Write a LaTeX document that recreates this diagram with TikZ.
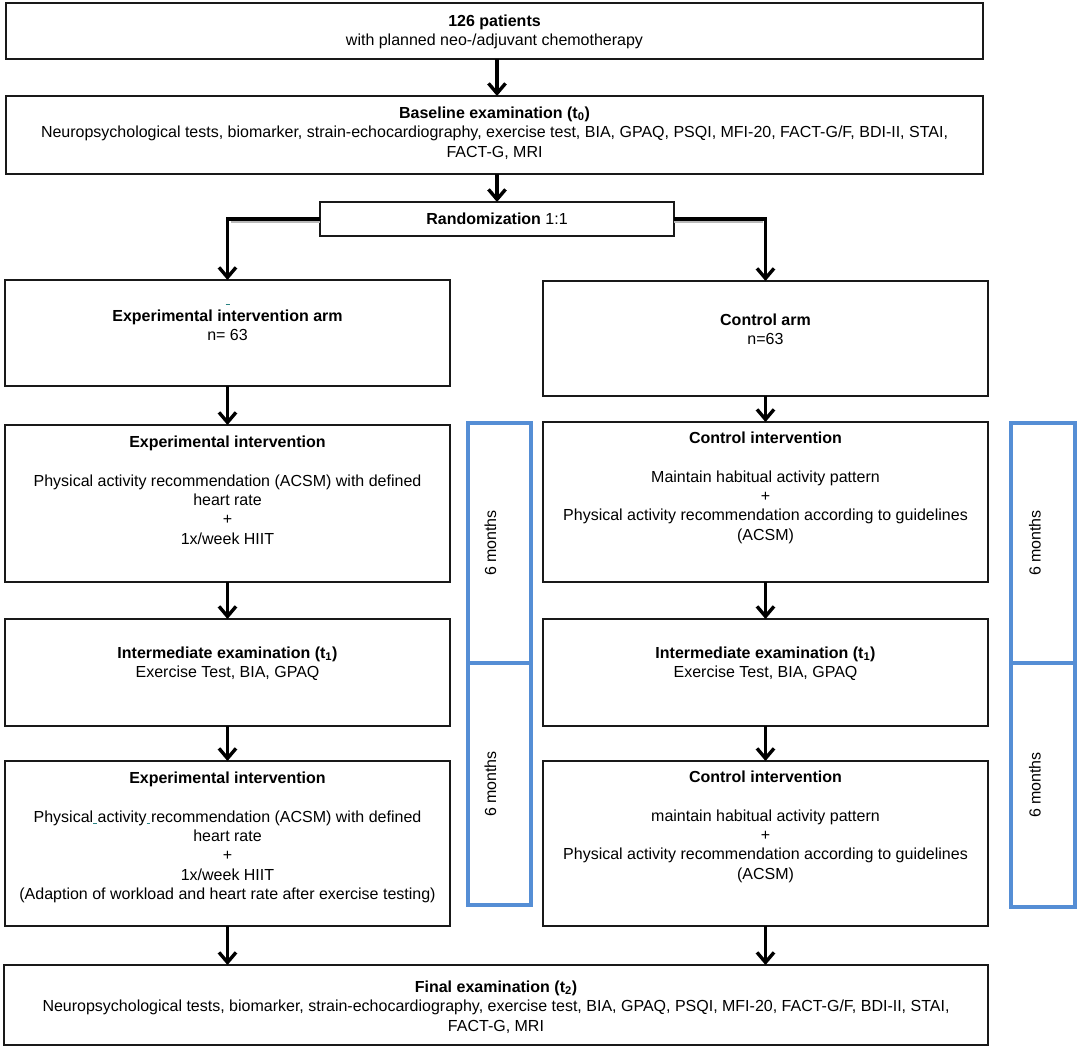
\documentclass[tikz,border=0pt]{standalone}
\usepackage{fontspec}
\setmainfont{Liberation Sans}
\usetikzlibrary{arrows.meta}
\definecolor{bluebox}{RGB}{85,142,213}
\definecolor{boxline}{RGB}{25,25,25}
\definecolor{tealmark}{RGB}{40,130,130}
\newcommand\mytealmark{\makebox[0pt][l]{\color{tealmark}\rule[-2pt]{3.5pt}{0.7pt}}}
\begin{document}
\begin{tikzpicture}[x=1pt,y=-1pt,
  box/.style={draw=boxline, line width=2.2pt, inner sep=0pt, outer sep=0pt, rectangle},
  bluerect/.style={draw=bluebox, line width=3.4pt, inner sep=0pt, outer sep=0pt, rectangle},
  txt/.style={align=center, inner sep=0pt, anchor=north, font=\fontsize{16}{19.4}\selectfont},
  arr/.style={line width=3.4pt, draw=black, -{Straight Barb[length=10pt,width=17pt]}},
  shadowline/.style={line width=2.2pt, draw=gray!55},
  months/.style={rotate=90, inner sep=0pt, font=\fontsize{16}{19}\selectfont}
]
\fill[white] (0,0) rectangle (1084,1052);
\useasboundingbox (0,0) rectangle (1084,1052);

% boxes
\node[box, minimum width=977pt, minimum height=56pt] (top) at (494.5,31) {};
\node[box, minimum width=977pt, minimum height=78pt] (base) at (494.5,135) {};
\node[box, minimum width=354pt, minimum height=34pt, font=\fontsize{16}{19.4}\selectfont] (rand) at (497,219) {\textbf{Randomization} 1:1};
\node[box, minimum width=445pt, minimum height=106pt] (earm) at (227.5,333) {};
\node[box, minimum width=445pt, minimum height=115pt] (carm) at (765.5,338.5) {};
\node[box, minimum width=445pt, minimum height=157pt] (eint) at (227.5,503.5) {};
\node[box, minimum width=445pt, minimum height=160pt] (cint) at (765.5,502) {};
\node[box, minimum width=445pt, minimum height=107pt] (eim) at (227.5,672.5) {};
\node[box, minimum width=445pt, minimum height=107pt] (cim) at (765.5,672.5) {};
\node[box, minimum width=445pt, minimum height=165pt] (eint2) at (227.5,843.5) {};
\node[box, minimum width=445pt, minimum height=165pt] (cint2) at (765.5,843.5) {};
\node[box, minimum width=984pt, minimum height=80pt] (final) at (496,1005) {};

% blue period boxes
\node[bluerect, minimum width=63pt, minimum height=240pt] (bl1) at (499.5,543) {};
\node[bluerect, minimum width=63pt, minimum height=242pt] (bl2) at (499.5,784) {};
\node[bluerect, minimum width=64pt, minimum height=240pt] (br1) at (1043,543) {};
\node[bluerect, minimum width=64pt, minimum height=244pt] (br2) at (1043,785) {};
\node[months] (m1) at ([xshift=-9pt]bl1.center) {6 months};
\node[months] (m2) at ([xshift=-9pt]bl2.center) {6 months};
\node[months] (m3) at ([xshift=-8pt]br1.center) {6 months};
\node[months] (m4) at ([xshift=-8pt]br2.center) {6 months};

% texts
\node[txt] (toptxt) at (494.5,14.5) {\textbf{126 patients}\\with planned neo-/adjuvant chemotherapy};
\node[txt] (basetxt) at (494.5,106.5) {\textbf{Baseline examination (t\textsubscript{0})}\\Neuropsychological tests, biomarker, strain-echocardiography, exercise test, BIA, GPAQ, PSQI, MFI-20, FACT-G/F, BDI-II, STAI,\\FACT-G, MRI};
\node[txt] (earmtxt) at (227.5,309.5) {\textbf{Experimental intervention arm}\\n= 63};
\draw[tealmark, line width=1pt] (225.5,304) -- (230,304);
\node[txt] (carmtxt) at (765.5,313.5) {\textbf{Control arm}\\n=63};
\node[txt] (einttxt) at (227.5,435.5) {\textbf{Experimental intervention}\\[19.4pt]Physical activity recommendation (ACSM) with defined\\heart rate\\+\\1x/week HIIT};
\node[txt] (cinttxt) at (765.5,431.5) {\textbf{Control intervention}\\[19.4pt]Maintain habitual activity pattern\\+\\Physical activity recommendation according to guidelines\\(ACSM)};
\node[txt] (eimtxt) at (227.5,646.5) {\textbf{Intermediate examination (t\textsubscript{1})}\\Exercise Test, BIA, GPAQ};
\node[txt] (cimtxt) at (765.5,646.5) {\textbf{Intermediate examination (t\textsubscript{1})}\\Exercise Test, BIA, GPAQ};
\node[txt] (eint2txt) at (227.5,771.5) {\textbf{Experimental intervention}\\[19.4pt]Physical\mytealmark{} activity\mytealmark{} recommendation (ACSM) with defined\\heart rate\\+\\1x/week HIIT\\(Adaption of workload and heart rate after exercise testing)};
\node[txt] (cint2txt) at (765.5,770.5) {\textbf{Control intervention}\\[19.4pt]maintain habitual activity pattern\\+\\Physical activity recommendation according to guidelines\\(ACSM)};
\node[txt] (finaltxt) at (496,980.5) {\textbf{Final examination (t\textsubscript{2})}\\Neuropsychological tests, biomarker, strain-echocardiography, exercise test, BIA, GPAQ, PSQI, MFI-20, FACT-G/F, BDI-II, STAI,\\FACT-G, MRI};

% connectors
\draw[arr] (top.south -| rand.north) -- (base.north -| rand.north);
\draw[arr] (base.south -| rand.north) -- (rand.north);
\draw[shadowline] ([yshift=-3pt]rand.west) -- ([yshift=-3pt,xshift=3pt]rand.west -| earm.north);
\draw[shadowline] ([yshift=-3pt]rand.east) -- ([yshift=-3pt,xshift=-3pt]rand.east -| carm.north);
\draw[arr] (rand.west) -| (earm.north);
\draw[arr] (rand.east) -| (carm.north);
\draw[arr] (earm.south) -- (eint.north);
\draw[arr] (carm.south) -- (cint.north);
\draw[arr] (eint.south) -- (eim.north);
\draw[arr] (cint.south) -- (cim.north);
\draw[arr] (eim.south) -- (eint2.north);
\draw[arr] (cim.south) -- (cint2.north);
\draw[arr] (eint2.south) -- (eint2.south |- final.north);
\draw[arr] (cint2.south) -- (cint2.south |- final.north);
\end{tikzpicture}
\end{document}
